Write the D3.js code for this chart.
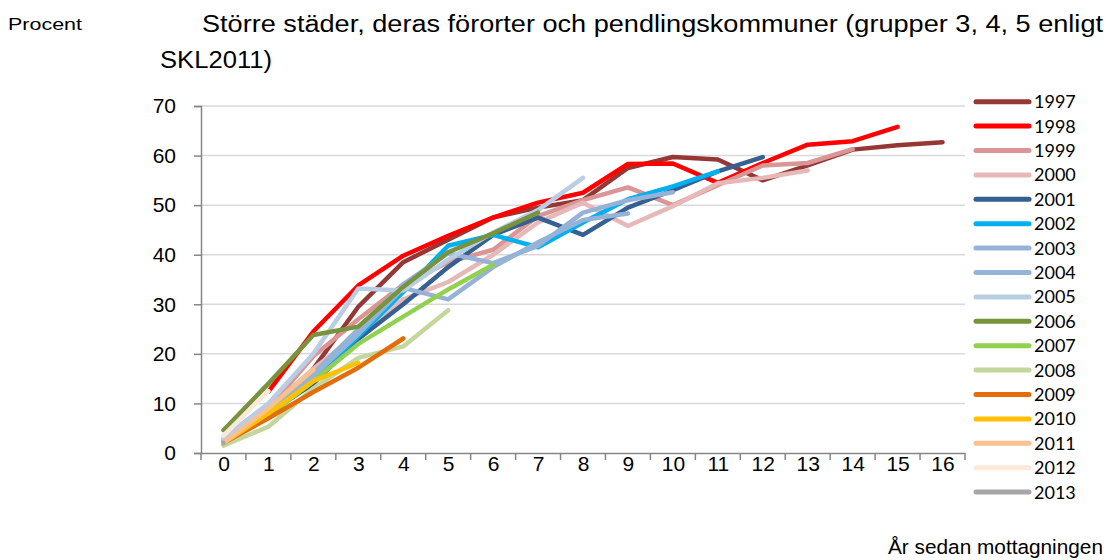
<!DOCTYPE html>
<html>
<head>
<meta charset="utf-8">
<script src="https://cdn.jsdelivr.net/npm/d3@7"></script>
<style>
  body { margin: 0; background: #fff; }
  svg { display: block; }
</style>
</head>
<body>
<div id="chart"></div>
<script>
var years = ["1997", "1998", "1999", "2000", "2001", "2002", "2003", "2004", "2005",
  "2006", "2007", "2008", "2009", "2010", "2011", "2012", "2013"];

var colors = ["#953735", "#ff0000", "#d99694", "#e6b9b8", "#376092", "#00b0f0", "#95b3d7",
  "#95b3d7", "#b9cde5", "#77933c", "#92d050", "#c3d69b", "#e46c0a", "#ffc000", "#fac090",
  "#fde9d9", "#a6a6a6"];

var categories = d3.range(0, 17); // år sedan mottagningen
var yTicks = [0, 10, 20, 30, 40, 50, 60, 70];

// procent per kohort, index = år sedan mottagningen (null = saknas)
var v1997 = [null, null, 17, 29.5, 38.5, 43, 47.5, 49.5, 51, 57.5, 59.7, 59.2, 55, 58, 61.2, 62.1, 62.7];
var v1998 = [null, 12.4, 24.5, 33.8, 39.8, 43.8, 47.5, 50.5, 52.5, 58.3, 58.4, 54.5, 58.5, 62.2, 62.9, 65.8];
var v1999 = [2.5, 9, 19.5, 27, 34, 38.5, 41, 47.8, 51, 53.6, 50, 54, 58, 58.5, 61.3];
var v2000 = [2.5, 9, 17, 24, 31, 34.5, 40, 46.5, 50.5, 45.8, 49.8, 54.4, 55.5, 57];
var v2001 = [2, 8, 14, 23, 30, 37.5, 44, 47.5, 44, 49.5, 53, 56.8, 59.7];
var v2002 = [2, 8, 15, 23.5, 32.5, 41.8, 44, 41.5, 46.5, 51.2, 53.8, 56.8];
var v2003 = [2.5, 8, 16, 25, 34, 40.3, 38.3, 41.8, 48.5, 51, 52.6];
var v2004 = [2.5, 8, 15.5, 24, 33.3, 31, 37.5, 42.5, 47, 48.3];
var v2005 = [3, 10, 20, 33.2, 32.8, 39, 44.5, 49, 55.5];
var v2006 = [4.6, 14, 23.8, 25.5, 33.5, 40.5, 44.3, 48.5];
var v2007 = [2, 7.5, 14.5, 22, 27.5, 33, 38];
var v2008 = [1.5, 5.3, 13, 19.2, 21.5, 28.8];
var v2009 = [2, 7, 12.3, 17.2, 23.1];
var v2010 = [2, 8, 14.5, 18.2];
var v2011 = [2, 9, 16.8];
var v2012 = [3.5, 12.5];
var v2013 = [2];

var series = [v1997, v1998, v1999, v2000, v2001, v2002, v2003, v2004, v2005,
  v2006, v2007, v2008, v2009, v2010, v2011, v2012, v2013];

var width = 1112,
  height = 560;

var svg = d3.select("#chart")
  .append("svg")
  .attr("width", width)
  .attr("height", height)
  .style("font-family", "Lato, 'Open Sans', sans-serif");

// kategori-axel: etiketter i mitten, streck mellan kategorierna
var x = d3.scaleLinear().domain([-0.5, 16.5]).range([201, 965]);
var y = d3.scaleLinear().domain([0, 70]).range([453, 106]);

// rutnät
svg.append("g")
  .selectAll("line")
  .data(yTicks.slice(1))
  .enter().append("line")
  .attr("x1", x(-0.5))
  .attr("x2", x(16.5))
  .attr("y1", function(d) { return y(d); })
  .attr("y2", function(d) { return y(d); })
  .attr("stroke", "#d9d9d9")
  .attr("stroke-width", 1.5);

// y-axel
var yAxis = svg.append("g")
  .attr("transform", "translate(" + x(-0.5) + ",0)")
  .call(d3.axisLeft(y).tickValues(yTicks).tickSize(7).tickPadding(18));
yAxis.selectAll("text").style("font-size", "21px").attr("fill", "#000");

// x-axel
var xAxis = svg.append("g")
  .attr("transform", "translate(0," + y(0) + ")")
  .call(d3.axisBottom(x).tickValues(categories).tickSize(0).tickPadding(3));
xAxis.selectAll("text").style("font-size", "21px").attr("fill", "#000");
xAxis.append("g")
  .selectAll("line")
  .data(d3.range(-0.5, 17, 1))
  .enter().append("line")
  .attr("x1", function(d) { return x(d); })
  .attr("x2", function(d) { return x(d); })
  .attr("y1", 0)
  .attr("y2", 7);

svg.selectAll(".domain, .tick line").attr("stroke", "#868686").attr("stroke-width", 1.5);
xAxis.selectAll("line").attr("stroke", "#868686").attr("stroke-width", 1.5);

// linjer
var line = d3.line()
  .defined(function(d) { return d != null; })
  .x(function(d, i) { return x(i); })
  .y(function(d) { return y(d); });

svg.append("g")
  .selectAll("path")
  .data(series)
  .enter().append("path")
  .attr("d", line)
  .attr("fill", "none")
  .attr("stroke", function(d, i) { return colors[i]; })
  .attr("stroke-width", 4.5)
  .attr("stroke-linejoin", "round")
  .attr("stroke-linecap", "round");

// legend
var legend = svg.append("g")
  .selectAll("g")
  .data(years)
  .enter().append("g")
  .attr("transform", function(d, i) { return "translate(976," + (101.7 + i * 24.4) + ")"; });

legend.append("line")
  .attr("x1", 0)
  .attr("x2", 53)
  .attr("stroke", function(d, i) { return colors[i]; })
  .attr("stroke-width", 5)
  .attr("stroke-linecap", "round");

legend.append("text")
  .attr("x", 58)
  .attr("dy", "0.36em")
  .style("font-size", "18px")
  .text(function(d) { return d; });

// rubriker
var narrow = "'Liberation Sans Narrow', 'Arial Narrow', 'Liberation Sans', Arial, sans-serif";

svg.append("text")
  .attr("x", 8)
  .attr("y", 30)
  .style("font-family", narrow)
  .style("font-size", "17px")
  .attr("textLength", 74)
  .attr("lengthAdjust", "spacingAndGlyphs")
  .text("Procent");

svg.append("text")
  .attr("x", 202)
  .attr("y", 32)
  .style("font-family", narrow)
  .style("font-size", "23px")
  .attr("textLength", 901)
  .attr("lengthAdjust", "spacingAndGlyphs")
  .text("Större städer, deras förorter och pendlingskommuner (grupper 3, 4, 5 enligt");

svg.append("text")
  .attr("x", 160)
  .attr("y", 68)
  .style("font-family", narrow)
  .style("font-size", "23px")
  .attr("textLength", 112)
  .attr("lengthAdjust", "spacingAndGlyphs")
  .text("SKL2011)");

svg.append("text")
  .attr("x", 1103)
  .attr("y", 554)
  .attr("text-anchor", "end")
  .attr("textLength", 215)
  .attr("lengthAdjust", "spacingAndGlyphs")
  .style("font-family", "'Liberation Sans', Arial, sans-serif")
  .style("font-size", "20.5px")
  .text("År sedan mottagningen");
</script>
</body>
</html>
